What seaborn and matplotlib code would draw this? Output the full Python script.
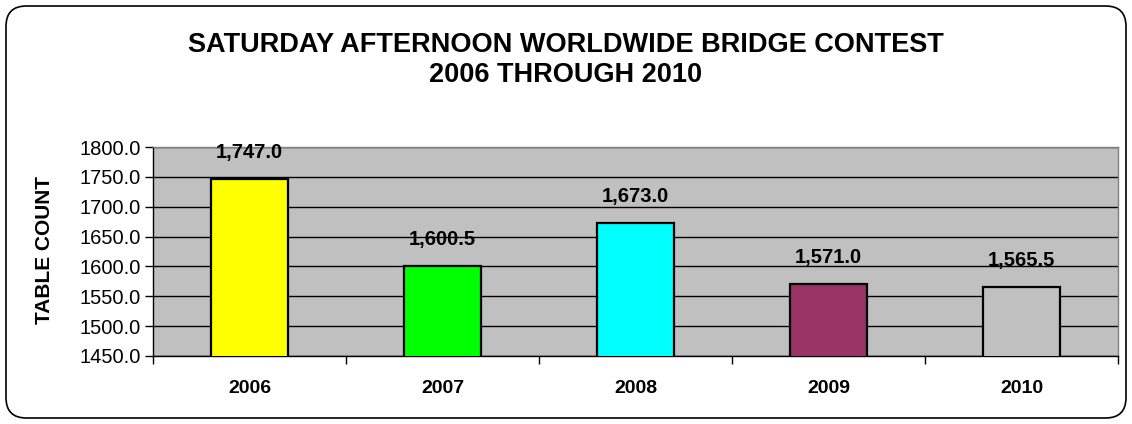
import matplotlib
matplotlib.use("Agg")
import numpy as np
import pandas as pd
import seaborn as sns
from matplotlib import pyplot as plt
from matplotlib.patches import FancyBboxPatch
from matplotlib.ticker import FixedLocator, FuncFormatter

# Dados
anos = ["2006", "2007", "2008", "2009", "2010"]
mesas = [1747.0, 1600.5, 1673.0, 1571.0, 1565.5]
cores = ["#FFFF00", "#00FF00", "#00FFFF", "#993366", "#C0C0C0"]
titulo = "SATURDAY AFTERNOON WORLDWIDE BRIDGE CONTEST\n2006 THROUGH 2010"

df = pd.DataFrame({"ano": anos, "mesas": mesas})

sns.set_style("white")
plt.rcParams["font.family"] = ["Liberation Sans", "DejaVu Sans"]
plt.rcParams["text.color"] = "black"
plt.rcParams["xtick.color"] = "black"
plt.rcParams["ytick.color"] = "black"
plt.rcParams["axes.labelcolor"] = "black"

fig = plt.figure(figsize=(11.32, 4.24), dpi=100)
ax = fig.add_axes([0.1352, 0.1604, 0.8524, 0.4929])

# Moldura arredondada
borda = FancyBboxPatch((6 / 1132, 6 / 424), 1120 / 1132, 412 / 424,
                       boxstyle="round,pad=0,rounding_size=0.018",
                       transform=fig.transFigure, facecolor="white",
                       edgecolor="black", linewidth=1.2, zorder=-10,
                       mutation_aspect=1132 / 424)
fig.patches.append(borda)

ax.set_facecolor("#C0C0C0")
sns.barplot(data=df, x="ano", y="mesas", hue="ano", palette=cores,
            saturation=1, width=0.4, edgecolor="black", linewidth=1.6,
            legend=False, ax=ax, zorder=3)

ax.set_ylim(1450, 1800)
ax.set_xlim(-0.5, 4.5)
ax.set_yticks(np.arange(1450, 1801, 50))
ax.yaxis.set_major_formatter(FuncFormatter(lambda v, p: f"{v:.1f}"))
ax.grid(axis="y", color="black", linewidth=1.0, zorder=0)
ax.set_axisbelow(True)

# Rotulos de valor
for i, v in enumerate(mesas):
    ax.annotate(f"{v:,.1f}", (i, v), xytext=(0, 19), textcoords="offset points",
                ha="center", va="center", fontsize=14.5, fontweight="bold")

# Eixos
ax.tick_params(axis="x", which="major", length=0, pad=17, labelsize=14)
for lbl in ax.get_xticklabels():
    lbl.set_fontweight("bold")
ax.xaxis.set_minor_locator(FixedLocator(np.arange(-0.5, 5, 1)))
ax.tick_params(axis="x", which="minor", length=6, width=1, color="black",
               direction="out", bottom=True)
ax.tick_params(axis="y", length=6, width=1, color="black", direction="out",
               labelsize=14.5, left=True, pad=3)

for s in ["left", "bottom"]:
    ax.spines[s].set_color("black")
    ax.spines[s].set_linewidth(1.0)
for s in ["top", "right"]:
    ax.spines[s].set_color("#808080")
    ax.spines[s].set_linewidth(1.0)

ax.set_xlabel("")
ax.set_ylabel("")
fig.text(45 / 1132, 1 - 250 / 424, "TABLE COUNT", rotation=90, ha="center",
         va="center", fontsize=15, fontweight="bold")
fig.text(0.5, 1 - 60 / 424, titulo, ha="center", va="center", fontsize=19.5,
         fontweight="bold", linespacing=1.15)

plt.savefig("out.png", dpi=100)
